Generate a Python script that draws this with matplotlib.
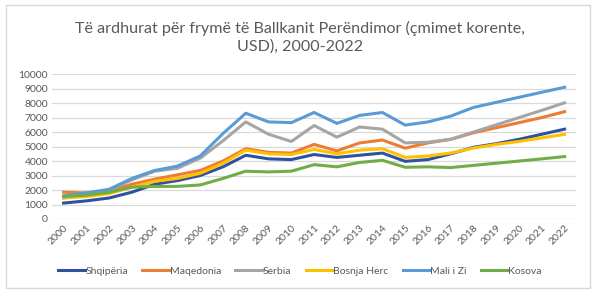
import matplotlib
matplotlib.use("Agg")
import matplotlib.pyplot as plt
from matplotlib.patches import Rectangle

years = [str(y) for y in range(2000, 2023)]
shqiperia = [1100, 1250, 1450, 1850, 2400, 2650, 3000, 3600, 4400, 4150, 4100, 4450, 4250, 4400, 4550, 3980, 4100, 4500, 4950, 5200, 5500, 5850, 6200]
maqedonia = [1850, 1800, 1950, 2400, 2750, 3050, 3350, 4000, 4850, 4600, 4550, 5150, 4700, 5250, 5450, 4890, 5250, 5500, 5950, 6300, 6650, 7000, 7410]
serbia = [1450, 1650, 2000, 2700, 3300, 3500, 4200, 5400, 6700, 5850, 5350, 6450, 5650, 6350, 6200, 5250, 5300, 5500, 6000, 6500, 7000, 7500, 8020]
bosnja = [1450, 1550, 1750, 2200, 2600, 2800, 3150, 3850, 4750, 4500, 4450, 4800, 4500, 4750, 4850, 4250, 4350, 4550, 4900, 5150, 5350, 5600, 5840]
mali = [1600, 1800, 2050, 2800, 3350, 3650, 4350, 5900, 7300, 6700, 6650, 7350, 6600, 7150, 7350, 6480, 6700, 7100, 7700, 8050, 8400, 8750, 9090]
kosova = [1550, 1650, 1850, 2200, 2250, 2250, 2350, 2800, 3300, 3250, 3300, 3750, 3600, 3900, 4050, 3570, 3600, 3550, 3700, 3850, 4000, 4150, 4310]

names = ["Shqipëria", "Maqedonia", "Serbia", "Bosnja Herc", "Mali i Zi", "Kosova"]
series = [shqiperia, maqedonia, serbia, bosnja, mali, kosova]
colors = ["#2F52A0", "#ED7D31", "#A5A5A5", "#FFC000", "#5B9BD5", "#70AD47"]
yticks = list(range(0, 10001, 1000))

plt.rcParams['font.family'] = ['Lato', 'DejaVu Sans']
fig = plt.figure(figsize=(6, 3), dpi=100)
fig.patches.append(Rectangle((0.01, 0.04), 0.973, 0.943, transform=fig.transFigure,
                             fill=False, edgecolor="#D9D9D9", linewidth=1))
ax = fig.add_axes([0.087, 0.27, 0.873, 0.483])
x = list(range(len(years)))
for name, vals, c in zip(names, series, colors):
    ax.plot(x, vals, color=c, linewidth=2.2, label=name)

ax.set_xlim(-0.5, len(years) - 0.5)
ax.set_ylim(0, 10000)
ax.set_yticks(yticks)
ax.set_yticklabels([str(v) for v in yticks])
ax.set_xticks(x)
ax.set_xticklabels(years, rotation=45, ha="right", rotation_mode="anchor")
ax.grid(axis="y", color="#D9D9D9", linewidth=0.9)
ax.set_axisbelow(True)
for s in ax.spines.values():
    s.set_visible(False)
ax.tick_params(axis="both", length=0, labelsize=7.5, labelcolor="#595959", pad=3)

fig.text(0.5, 0.875, "Të ardhurat për frymë të Ballkanit Perëndimor (çmimet korente,\nUSD), 2000-2022",
         ha="center", va="center", fontsize=11.6, color="#595959", linespacing=1.25)

fig.legend(loc="center", bbox_to_anchor=(0.5, 0.097), ncol=6, frameon=False,
           fontsize=7.5, handlelength=2.6, handletextpad=0.05, columnspacing=1.35,
           labelcolor="#595959")

fig.savefig("out.png", dpi=100)
